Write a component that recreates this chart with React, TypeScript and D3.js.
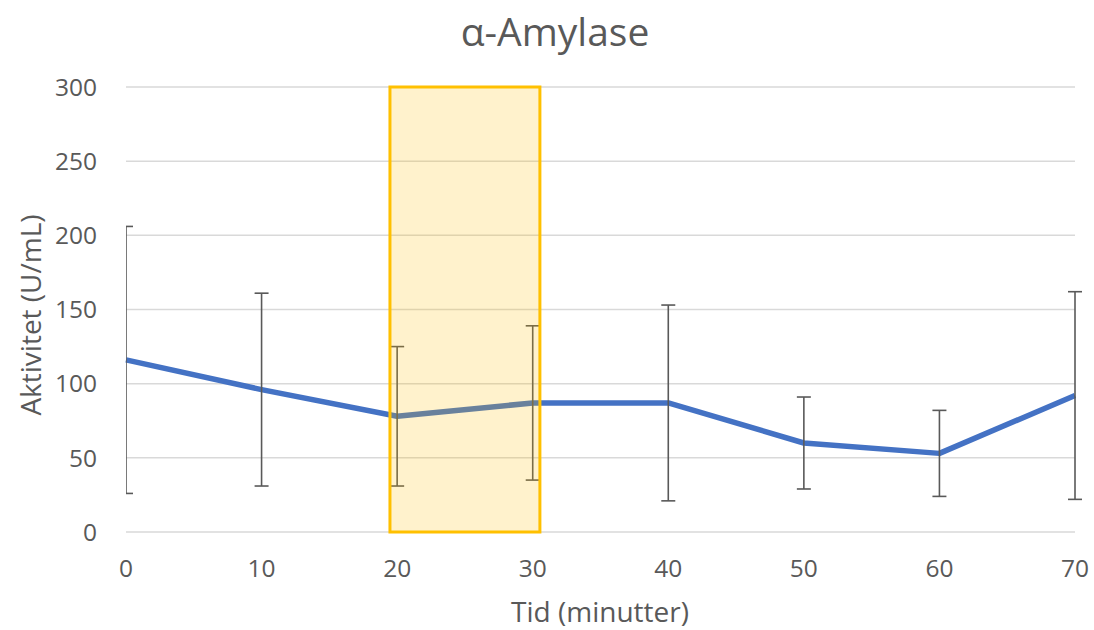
import React from "react";
import * as d3 from "d3";

const times = [0, 10, 20, 30, 40, 50, 60, 70];
const activity = [116, 96, 78, 87, 87, 60, 53, 92];
const errorAmount = [90, 65, 47, 52, 66, 31, 29, 70];
const yTicks = [0, 50, 100, 150, 200, 250, 300];
const xTicks = [0, 10, 20, 30, 40, 50, 60, 70];
const highlight = { from: 19.47, to: 30.53 };

const W = 1094;
const H = 630;
const M = { left: 126, right: 1075, top: 87, bottom: 532 };
const FONT = "'Open Sans', sans-serif";
const TEXT = "#595959";

export default function App() {
  const x = d3.scaleLinear().domain([0, 70]).range([M.left, M.right]);
  const y = d3.scaleLinear().domain([0, 300]).range([M.bottom, M.top]);
  const line = d3
    .line<number>()
    .x((_, i) => x(times[i]))
    .y((d) => y(d));
  const cap = 7;

  return (
    <svg width={W} height={H} style={{ position: "absolute", left: 0, top: 0, background: "#fff" }}>
      <defs>
        <clipPath id="plotclip">
          <rect x={M.left} y={0} width={W - M.left} height={H} />
        </clipPath>
      </defs>
      <text x={555} y={46} textAnchor="middle" fontFamily={FONT} fontSize={39} fill={TEXT}>
        α-Amylase
      </text>
      {yTicks.map((t) => (
        <g key={t}>
          <line x1={M.left} x2={M.right} y1={y(t)} y2={y(t)} stroke="#d9d9d9" strokeWidth={1.5} />
          <text x={97} y={y(t)} dy="0.36em" textAnchor="end" fontFamily={FONT} fontSize={24.5} fill={TEXT}>
            {t}
          </text>
        </g>
      ))}
      {xTicks.map((t) => (
        <text key={t} x={x(t)} y={577} textAnchor="middle" fontFamily={FONT} fontSize={24.5} fill={TEXT}>
          {t}
        </text>
      ))}
      <text x={600} y={622} textAnchor="middle" fontFamily={FONT} fontSize={28} fill={TEXT}>
        Tid (minutter)
      </text>
      <text
        transform={`translate(41,315) rotate(-90)`}
        textAnchor="middle"
        fontFamily={FONT}
        fontSize={28}
        fill={TEXT}
      >
        Aktivitet (U/mL)
      </text>
      <path d={line(activity) || ""} fill="none" stroke="#4472C4" strokeWidth={5.5} strokeLinejoin="round" />
      <g clipPath="url(#plotclip)" stroke="#595959" strokeWidth={1.6}>
        {times.map((t, i) => {
          const cx = x(t);
          const top = y(activity[i] + errorAmount[i]);
          const bot = y(activity[i] - errorAmount[i]);
          return (
            <g key={t}>
              <line x1={cx} x2={cx} y1={top} y2={bot} />
              <line x1={cx - cap} x2={cx + cap} y1={top} y2={top} />
              <line x1={cx - cap} x2={cx + cap} y1={bot} y2={bot} />
            </g>
          );
        })}
      </g>
      <rect
        x={x(highlight.from)}
        y={y(300)}
        width={x(highlight.to) - x(highlight.from)}
        height={y(0) - y(300)}
        fill="#FFC000"
        fillOpacity={0.2}
        stroke="#FFC000"
        strokeWidth={3}
      />
    </svg>
  );
}
